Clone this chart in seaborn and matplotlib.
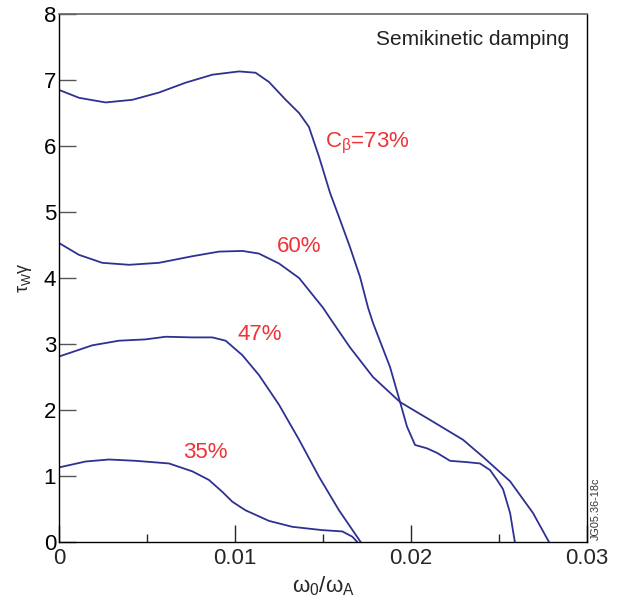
import matplotlib
matplotlib.use("Agg")
import matplotlib.pyplot as plt
import seaborn as sns

# courbes (omega_0/omega_A , tau_w*gamma)
x_73 = [0, 0.00114, 0.00265, 0.00417, 0.00568, 0.0072, 0.00871, 0.01023,
        0.01117, 0.01193, 0.01288, 0.01364, 0.0142, 0.01477, 0.015, 0.0154,
        0.01597, 0.01653, 0.0171, 0.01756, 0.01784, 0.01881, 0.01938, 0.01977,
        0.02023, 0.0209, 0.02148, 0.02222, 0.02318, 0.02392, 0.02449, 0.02489,
        0.02523, 0.02563, 0.0259]
y_73 = [6.85, 6.73, 6.66, 6.70, 6.81, 6.96, 7.08, 7.13,
        7.11, 6.97, 6.70, 6.50, 6.29, 5.84, 5.64, 5.29,
        4.88, 4.47, 4.02, 3.55, 3.32, 2.65, 2.12, 1.75,
        1.47, 1.42, 1.35, 1.23, 1.21, 1.19, 1.09, 0.94,
        0.80, 0.44, 0.0]

x_60 = [0, 0.00114, 0.00246, 0.00398, 0.00568, 0.00758, 0.00909, 0.01042,
        0.01136, 0.0125, 0.01364, 0.015, 0.0154, 0.01653, 0.01784, 0.01938,
        0.02108, 0.02295, 0.02409, 0.02563, 0.02693, 0.02784]
y_60 = [4.53, 4.35, 4.23, 4.20, 4.23, 4.33, 4.40, 4.41,
        4.37, 4.22, 4.00, 3.55, 3.39, 2.95, 2.50, 2.12,
        1.85, 1.55, 1.29, 0.92, 0.44, 0.0]

x_47 = [0, 0.00189, 0.00341, 0.00492, 0.00606, 0.00758, 0.00871, 0.00947,
        0.01042, 0.01136, 0.0125, 0.01364, 0.01477, 0.01591, 0.01714]
y_47 = [2.81, 2.98, 3.05, 3.07, 3.11, 3.10, 3.10, 3.05,
        2.83, 2.53, 2.08, 1.55, 0.99, 0.48, 0.0]

x_35 = [0, 0.00152, 0.00284, 0.00436, 0.00625, 0.00758, 0.00852, 0.00928,
        0.00985, 0.0106, 0.01193, 0.01326, 0.01496, 0.0161, 0.01667, 0.01695]
y_35 = [1.13, 1.22, 1.25, 1.23, 1.19, 1.07, 0.94, 0.76,
        0.61, 0.48, 0.32, 0.23, 0.18, 0.16, 0.08, 0.0]

labels = ["C$_β$=73%", "60%", "47%", "35%"]
label_pos = [(0.01511, 6.04), (0.01239, 4.48), (0.01017, 3.15), (0.00705, 1.36)]

sns.set_style("ticks")
plt.rcParams["font.family"] = ["Liberation Sans", "DejaVu Sans"]
plt.rcParams["mathtext.fontset"] = "custom"
plt.rcParams["mathtext.rm"] = "Liberation Sans"
plt.rcParams["mathtext.it"] = "Liberation Sans"
plt.rcParams["mathtext.default"] = "regular"

fig = plt.figure(figsize=(6.21, 6.06), dpi=100)
ax = fig.add_axes([59 / 621, 64 / 606, 528 / 621, 528 / 606])

bleu = "#2e3192"
rouge = "#ee3338"
for xs, ys in [(x_73, y_73), (x_60, y_60), (x_47, y_47), (x_35, y_35)]:
    sns.lineplot(x=xs, y=ys, ax=ax, color=bleu, lw=1.3, sort=False, estimator=None)

for lab, (px, py) in zip(labels, label_pos):
    ax.text(px, py, lab, color=rouge, fontsize=16, ha="left", va="center")

ax.text(0.0290, 7.61, "Semikinetic damping", color="#222222", fontsize=15,
        ha="right", va="center")

ax.set_xlim(0, 0.03)
ax.set_ylim(0, 8)
ax.set_xticks([0, 0.01, 0.02, 0.03])
ax.set_xticklabels(["0", "0.01", "0.02", "0.03"])
ax.set_xticks([0.005, 0.015, 0.025], minor=True)
ax.set_yticks(range(0, 9))
ax.tick_params(axis="both", which="major", direction="in", length=12, width=1,
               labelsize=16)
ax.tick_params(axis="y", pad=2, color="#555555", labelcolor="black")
ax.tick_params(axis="x", pad=4)
ax.tick_params(axis="x", which="minor", direction="in", length=6, width=1)
for side in ["left", "bottom", "right"]:
    ax.spines[side].set_color("black")
    ax.spines[side].set_linewidth(1)
ax.spines["top"].set_color("#666666")
ax.spines["top"].set_linewidth(1.2)

ax.set_xlabel("ω$_0$/ω$_A$", fontsize=16, labelpad=4)
ax.set_ylabel("τ$_W$γ", fontsize=13, labelpad=7)

fig.text(596 / 621, 1 - 540 / 606, "JG05.36-18c", rotation=90, fontsize=7.8,
         ha="center", va="bottom", color="#333333")

plt.savefig("out.png", dpi=100)
